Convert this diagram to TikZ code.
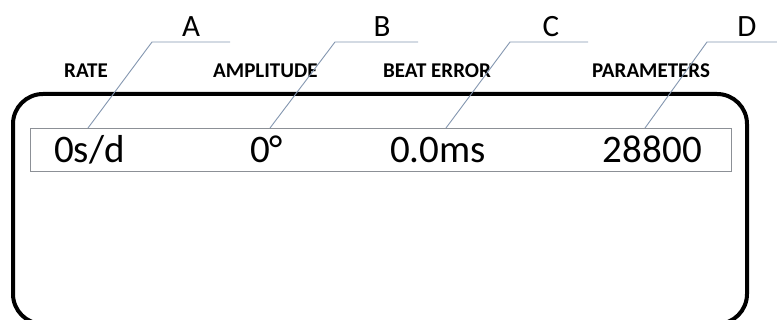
\documentclass[tikz,border=0pt]{standalone}
\usepackage{fontspec}
\setmainfont{Carlito}
\definecolor{leader}{HTML}{8497B0}
\definecolor{panel}{HTML}{8C9096}
\tikzset{
  hdr/.style={font=\fontsize{21}{21}\selectfont\bfseries, inner sep=0pt},
  readout/.style={font=\fontsize{39}{39}\selectfont, inner sep=0pt},
  tag/.style={font=\fontsize{31}{31}\selectfont, inner sep=0pt},
  leaderline/.style={draw=leader, line width=0.9pt},
}
\begin{document}
\begin{tikzpicture}[x=1pt, y=-1pt]
  \useasboundingbox (0,0) rectangle (777,320);
  \fill[white] (0,0) rectangle (777,320);
  \begin{scope}
    \clip (0,0) rectangle (777,320);
    % outer housing of the display
    \node[draw, line width=4pt, rounded corners=30pt, inner sep=0pt,
          minimum width=734pt, minimum height=230pt, anchor=north west]
          (frame) at (11,92) {};
  \end{scope}

  % readout strip
  \node[draw=panel, line width=0.9pt, inner sep=0pt,
        minimum width=701pt, minimum height=43pt, anchor=north west]
        (strip) at (30,128) {};

  % column headings
  \node[hdr, anchor=base west] (hrate) at (64,78) {RATE};
  \node[hdr, anchor=base west] (hamp)  at (213,78) {AMPLITUDE};
  \node[hdr, anchor=base west] (hbeat) at (383,78) {BEAT ERROR};
  \node[hdr, anchor=base west] (hpar)  at (592,78) {PARAMETERS};

  % readout values
  \node[readout, anchor=base west] (vrate) at (54,163) {0s/d};
  \node[readout, anchor=base west] (vamp)  at (250,163) {0°};
  \node[readout, anchor=base west] (vbeat) at (390,163) {0.0ms};
  \node[readout, anchor=base east] (vpar)  at (702,163) {28800};

  % callout letters
  \node[tag, anchor=base] (A) at (191,37) {A};
  \node[tag, anchor=base] (B) at (382,37) {B};
  \node[tag, anchor=base] (C) at (551,37) {C};
  \node[tag, anchor=base] (D) at (747,37) {D};

  % leader elbows, ends and targets on the strip
  \coordinate (ka) at (152,42);  \coordinate (ea) at (230,42);  \coordinate (ta) at (88,128);
  \coordinate (kb) at (335,42);  \coordinate (eb) at (418,42);  \coordinate (tb) at (270,128);
  \coordinate (kc) at (510,42);  \coordinate (ec) at (588,42);  \coordinate (tc) at (446,128);
  \coordinate (kd) at (707,42);  \coordinate (ed) at (777,42);  \coordinate (td) at (645,128);

  \draw[leaderline] (ea) -- (ka) -- (ta);
  \draw[leaderline] (eb) -- (kb) -- (tb);
  \draw[leaderline] (ec) -- (kc) -- (tc);
  \draw[leaderline] (ed) -- (kd) -- (td);
\end{tikzpicture}
\end{document}
